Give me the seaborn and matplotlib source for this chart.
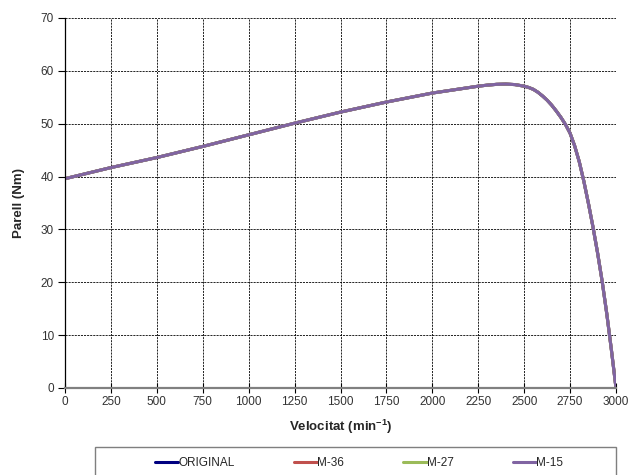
import matplotlib
matplotlib.use("Agg")
import matplotlib.pyplot as plt
from matplotlib.patches import Rectangle
from matplotlib.lines import Line2D
import seaborn as sns
import pandas as pd

# ---- data ----
speed = [0, 250, 500, 750, 1000, 1250, 1500, 1750, 2000, 2250, 2300, 2350, 2400,
         2450, 2500, 2525, 2550, 2575, 2600, 2625, 2650, 2675, 2700, 2725, 2750,
         2775, 2800, 2825, 2850, 2875, 2900, 2925, 2950, 2975, 3000]
torque_original = [39.6, 41.7, 43.6, 45.7, 47.9, 50.1, 52.2, 54.1, 55.8, 57.1, 57.3, 57.45, 57.5,
                   57.4, 57.1, 56.85, 56.5, 55.95, 55.25, 54.45, 53.5, 52.4, 51.2, 49.85, 48.2,
                   45.8, 42.8, 39.1, 34.9, 30.4, 25.5, 20.1, 14.0, 7.2, 0.0]
torque_m36 = list(torque_original)
torque_m27 = list(torque_original)
torque_m15 = list(torque_original)
series_names = ["ORIGINAL", "M-36", "M-27", "M-15"]
series_colors = ["#000080", "#C0504D", "#9BBB59", "#8064A2"]
x_ticks = list(range(0, 3001, 250))
y_ticks = list(range(0, 71, 10))

sns.set_style("white")
plt.rcParams["font.family"] = ["Liberation Sans", "DejaVu Sans"]
plt.rcParams["mathtext.fontset"] = "custom"
plt.rcParams["mathtext.rm"] = "Liberation Sans"
plt.rcParams["mathtext.bf"] = "Liberation Sans:bold"

frames = []
for name, vals in zip(series_names, [torque_original, torque_m36, torque_m27, torque_m15]):
    frames.append(pd.DataFrame({"speed": speed, "torque": vals, "series": name}))
df = pd.concat(frames, ignore_index=True)

fig = plt.figure(figsize=(6.32, 4.75), dpi=100)
ax = fig.add_axes([65/632, 1-388/475, 551/632, 370/475])

sns.lineplot(data=df, x="speed", y="torque", hue="series", hue_order=series_names,
             palette=series_colors, sort=False, linewidth=2.2, legend=False, ax=ax,
             estimator=None)

ax.set_xlim(0, 3000)
ax.set_ylim(0, 70)
ax.set_xticks(x_ticks)
ax.set_yticks(y_ticks)
ax.grid(True, color="black", linestyle=(0, (2.5, 1.2)), linewidth=0.6)
ax.set_axisbelow(True)
for s in ["top", "right"]:
    ax.spines[s].set_visible(False)
ax.spines["left"].set_color("black")
ax.spines["left"].set_linewidth(0.9)
ax.spines["bottom"].set_color("#808080")
ax.spines["bottom"].set_linewidth(1.6)
ax.tick_params(axis="y", direction="out", length=5, width=0.8, color="black",
               labelsize=8.5, labelcolor="#333333", pad=3, left=True)
ax.tick_params(axis="x", direction="inout", length=7, width=0.8, color="black",
               labelsize=8.5, labelcolor="#333333", pad=2, bottom=True)

ax.set_xlabel(r"Velocitat (min$^{\mathbf{-1}}$)", fontsize=9.5, fontweight="bold", labelpad=7)
ax.set_ylabel("Parell (Nm)", fontsize=9.5, fontweight="bold", labelpad=11)

handles = [Line2D([0], [0], color=c, lw=2.2) for c in series_colors]
fig.legend(handles, series_names, loc="center", bbox_to_anchor=(359/632, 1-463/475),
           ncol=4, frameon=False, handlelength=2.0, handletextpad=0.0,
           columnspacing=5.0, fontsize=8.5)
fig.add_artist(Rectangle((95/632, -0.05), (616-95)/632, (475-447)/475 + 0.05,
                         transform=fig.transFigure, fill=False, edgecolor="#7f7f7f", lw=1))

fig.savefig("out.png", dpi=100)
